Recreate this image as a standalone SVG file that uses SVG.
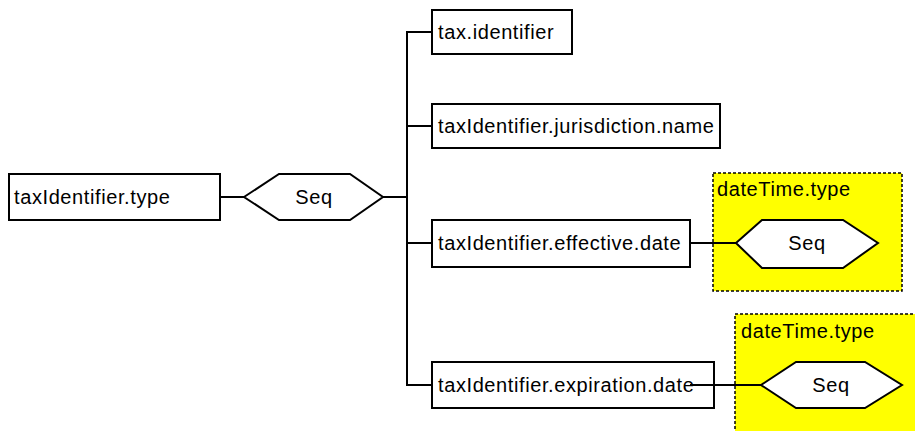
<svg xmlns="http://www.w3.org/2000/svg" width="915" height="431" viewBox="0 0 915 431">
<style>
.box{fill:#fff;stroke:#000;stroke-width:2}
.hex{fill:#fff;stroke:#000;stroke-width:2}
.grp{fill:#ffff00;stroke:#000;stroke-width:1.5;stroke-dasharray:3 2}
.t{font-family:"Liberation Sans",Arial,sans-serif;font-size:20px;letter-spacing:0.6px;fill:#000}
.c{text-anchor:middle}
.ln{fill:none;stroke:#000;stroke-width:2}
</style>
<rect width="915" height="431" fill="#fff"/>
<g id="group-dt1"><rect class="grp" x="713" y="173" width="189" height="118"/><text class="t" x="717" y="196">dateTime.type</text></g>
<g id="group-dt2"><rect class="grp" x="735" y="314" width="190" height="130"/><text class="t" x="741" y="338">dateTime.type</text></g>
<g id="connectors">
<path class="ln" d="M220 197H244"/>
<path class="ln" d="M383 197H407"/>
<path class="ln" d="M432 32H407V385H432"/>
<path class="ln" d="M407 126H432"/>
<path class="ln" d="M407 243H432"/>
<path class="ln" d="M690 243H736"/>
</g>
<g id="n-type"><rect class="box" x="9" y="174" width="211" height="46"/><text class="t" x="14" y="204">taxIdentifier.type</text></g>
<g id="n-seq1"><polygon class="hex" points="244,197 279,174 350,174 383,197 350,220 279,220"/><text class="t c" x="314" y="204">Seq</text></g>
<g id="n-taxid"><rect class="box" x="432" y="10" width="140" height="44"/><text class="t" x="438" y="39">tax.identifier</text></g>
<g id="n-juris"><rect class="box" x="432" y="104" width="288" height="44"/><text class="t" x="438" y="133">taxIdentifier.jurisdiction.name</text></g>
<g id="n-eff"><rect class="box" x="432" y="220" width="258" height="47"/><text class="t" x="438" y="250">taxIdentifier.effective.date</text></g>
<g id="n-exp"><rect class="box" x="432" y="362" width="282" height="46"/><text class="t" x="438" y="392">taxIdentifier.expiration.date</text></g>
<path class="ln" d="M690 385H761"/>
<g id="n-seq2"><polygon class="hex" points="736,243 762,220 843,220 878,243 843,268 762,268"/><text class="t c" x="807" y="250">Seq</text></g>
<g id="n-seq3"><polygon class="hex" points="761,385 796,362 865,362 902,385 865,408 796,408"/><text class="t c" x="831" y="392">Seq</text></g>
</svg>
